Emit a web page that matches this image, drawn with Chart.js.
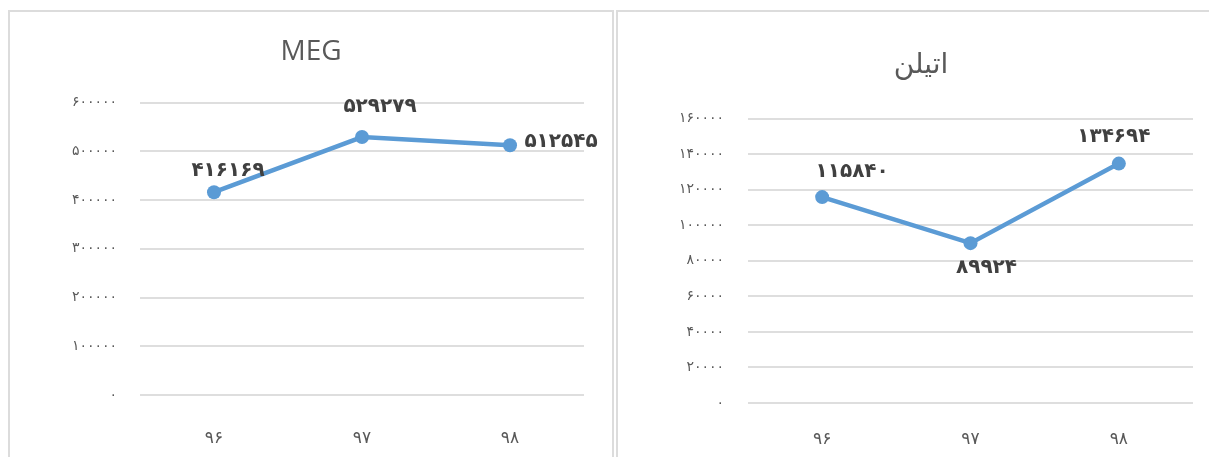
<!DOCTYPE html>
<html>
<head>
<meta charset="utf-8">
<script src="https://cdn.jsdelivr.net/npm/chart.js@4.4.1/dist/chart.umd.min.js"></script>
<style>
    html, body { margin: 0; padding: 0; background: #fff; overflow: hidden; width: 1209px; height: 457px; }
    .box { position: absolute; top: 10px; height: 460px; border: 2px solid #dcdcdc; box-sizing: border-box; }
    #box1 { left: 8px; width: 606px; }
    #box2 { left: 616px; width: 610px; }
    .box canvas { display: block; }
</style>
</head>
<body>
<div class="box" id="box1"><canvas id="chartMeg" width="602" height="456"></canvas></div>
<div class="box" id="box2"><canvas id="chartEthylene" width="606" height="456"></canvas></div>

<script>
// categories (years)
const years = ['۹۶', '۹۷', '۹۸'];

// MEG values
const megValues = [416169, 529279, 512545];
const megTicks = { min: 0, max: 600000, step: 100000 };

// ethylene values
const ethyleneValues = [115840, 89924, 134694];
const ethyleneTicks = { min: 0, max: 160000, step: 20000 };

// label offsets from the point (style only)
const megLabelOffsets = [[14, -21], [18, -30], [51, -3]];
const ethyleneLabelOffsets = [[30, -25], [16, 25], [-5, -27]];

const lineColor = '#5b9bd5';
const textColor = '#595959';
const gridColor = '#dedede';

function toPersian(v) {
    return String(v).replace(/\d/g, d => '۰۱۲۳۴۵۶۷۸۹'[d]);
}

// simple data label plugin
const valueLabels = {
    id: 'valueLabels',
    afterDatasetsDraw(chart, args, opts) {
        const ctx = chart.ctx;
        const meta = chart.getDatasetMeta(0);
        const values = chart.data.datasets[0].data;
        ctx.save();
        ctx.font = 'bold 20px "DejaVu Sans"';
        ctx.fillStyle = '#404040';
        ctx.textAlign = 'center';
        ctx.textBaseline = 'middle';
        meta.data.forEach((pt, i) => {
            const off = opts.offsets[i];
            ctx.fillText(toPersian(values[i]), pt.x + off[0], pt.y + off[1]);
        });
        ctx.restore();
    }
};

function makeChart(id, title, values, ticks, offsets, cfg) {
    const ctx = document.getElementById(id).getContext('2d');
    return new Chart(ctx, {
        type: 'line',
        data: {
            labels: years,
            datasets: [{
                data: values,
                borderColor: lineColor,
                backgroundColor: lineColor,
                borderWidth: 4.5,
                pointRadius: 7,
                pointHoverRadius: 7,
                pointBorderWidth: 0,
                tension: 0
            }]
        },
        options: {
            responsive: false,
            animation: false,
            layout: { padding: 0 },
            scales: {
                x: {
                    offset: true,
                    grid: { display: false },
                    border: { display: false },
                    ticks: { color: textColor, font: { family: 'DejaVu Sans', size: 17 }, padding: cfg.xPad },
                    afterFit: s => { s.height = cfg.xHeight; }
                },
                y: {
                    min: ticks.min,
                    max: ticks.max,
                    grid: { color: gridColor, lineWidth: 2, drawTicks: false },
                    border: { display: false },
                    ticks: {
                        stepSize: ticks.step,
                        color: textColor,
                        font: { family: 'DejaVu Sans', size: 14 },
                        padding: cfg.yPad,
                        callback: v => toPersian(v)
                    },
                    afterFit: s => { s.width = 130; }
                },
                // empty right margin so the title stays centred on the whole box
                margin: {
                    position: 'right',
                    display: true,
                    grid: { display: false },
                    border: { display: false },
                    ticks: { display: false },
                    afterFit: s => { s.width = cfg.padRight; }
                }
            },
            plugins: {
                legend: { display: false },
                tooltip: { enabled: false },
                title: {
                    display: true,
                    text: title,
                    color: textColor,
                    font: { family: '"Open Sans", "DejaVu Sans"', size: 28, weight: 'normal' },
                    padding: { top: cfg.titleTop, bottom: cfg.titleBottom }
                },
                valueLabels: { offsets: offsets }
            }
        },
        plugins: [valueLabels]
    });
}

makeChart('chartMeg', 'MEG', megValues, megTicks, megLabelOffsets,
    { padRight: 28, xHeight: 73, xPad: 25, yPad: 23, titleTop: 23, titleBottom: 34 });

makeChart('chartEthylene', 'اتیلن', ethyleneValues, ethyleneTicks, ethyleneLabelOffsets,
    { padRight: 31, xHeight: 65, xPad: 18, yPad: 24, titleTop: 36, titleBottom: 37 });
</script>
</body>
</html>
